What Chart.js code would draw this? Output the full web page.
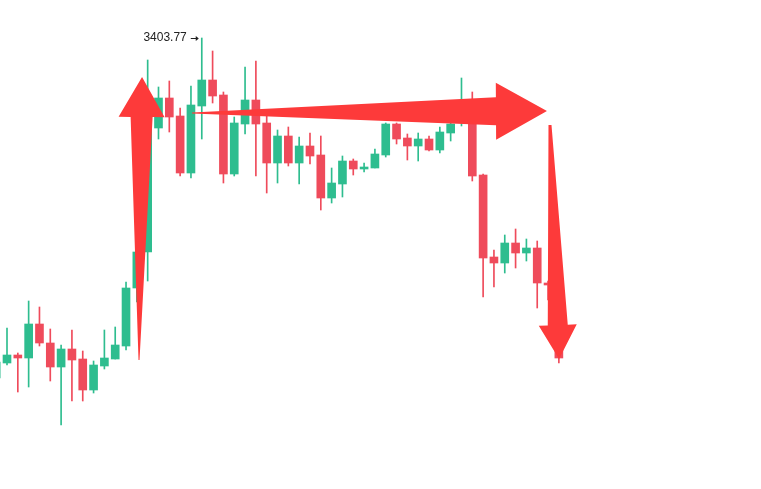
<!DOCTYPE html>
<html>
<head>
<meta charset="utf-8">
<style>
  html, body { margin: 0; padding: 0; background: #fff; }
  #wrap { width: 761px; height: 489px; }
</style>
<script src="https://cdn.jsdelivr.net/npm/chart.js@4/dist/chart.umd.min.js"></script>
</head>
<body>
<div id="wrap"><canvas id="kline"></canvas></div>
<script>
// candles, first one is cut off by the left edge
var opens = [3233.77, 3241.27, 3245.27, 3243.77, 3260.77, 3251.27, 3239.27, 3248.27, 3243.27, 3227.77,
  3239.77, 3243.27, 3249.77, 3278.77, 3296.77, 3358.77, 3373.77, 3364.77, 3336.27, 3369.77,
  3382.77, 3375.27, 3335.77, 3360.77, 3372.77, 3361.27, 3341.27, 3354.77, 3341.27, 3349.77,
  3345.27, 3323.77, 3330.77, 3342.27, 3338.27, 3338.77, 3345.27, 3360.77, 3353.77, 3349.77,
  3353.27, 3347.77, 3356.27, 3361.77, 3362.77, 3335.27, 3294.27, 3291.27, 3301.27, 3296.27,
  3298.77, 3281.27, 3280.27];
var highs = [3245.27, 3258.77, 3246.27, 3272.27, 3269.27, 3258.27, 3250.27, 3257.77, 3247.27, 3242.27,
  3257.77, 3259.27, 3281.77, 3300.27, 3392.77, 3379.27, 3382.27, 3368.77, 3379.77, 3403.77,
  3397.27, 3376.77, 3364.27, 3389.27, 3392.27, 3365.27, 3357.77, 3359.27, 3354.27, 3356.27,
  3354.77, 3338.77, 3344.77, 3343.27, 3341.27, 3348.27, 3361.27, 3361.27, 3355.77, 3356.27,
  3354.77, 3359.27, 3367.77, 3383.77, 3376.77, 3335.77, 3297.77, 3305.27, 3308.27, 3303.27,
  3302.27, 3282.27, 3281.27];
var lows = [3230.27, 3240.27, 3226.77, 3229.27, 3249.77, 3232.27, 3210.27, 3222.27, 3222.27, 3226.27,
  3238.27, 3243.27, 3247.77, 3271.77, 3282.27, 3353.27, 3356.77, 3334.77, 3333.77, 3353.27,
  3371.27, 3331.27, 3334.77, 3355.77, 3334.77, 3326.27, 3331.27, 3339.77, 3330.77, 3340.77,
  3317.77, 3321.27, 3324.27, 3335.27, 3336.77, 3338.77, 3344.27, 3350.77, 3342.77, 3342.27,
  3347.27, 3346.27, 3352.27, 3359.77, 3332.27, 3274.27, 3279.27, 3286.27, 3288.77, 3292.27,
  3268.77, 3272.77, 3241.27];
var closes = [3241.77, 3245.27, 3243.77, 3260.77, 3251.27, 3239.27, 3248.27, 3242.77, 3227.77, 3240.27,
  3243.77, 3250.27, 3278.77, 3296.77, 3367.77, 3373.77, 3364.27, 3336.27, 3370.27, 3382.77,
  3374.77, 3335.77, 3361.27, 3372.77, 3360.77, 3341.27, 3354.77, 3341.27, 3349.77, 3344.77,
  3323.77, 3331.27, 3342.27, 3338.27, 3339.27, 3345.77, 3360.77, 3353.27, 3349.77, 3353.27,
  3347.77, 3356.77, 3360.77, 3370.27, 3334.77, 3293.77, 3291.27, 3301.27, 3296.27, 3298.77,
  3281.27, 3280.27, 3243.77];

// drawn arrows: [candle index, price] for tail and tip
var arrowTails = [[12.2, 3242.77], [17.1, 3366.27], [50.18, 3360.27]];
var arrowTips = [[12.48, 3384.27], [49.9, 3367.27], [51.02, 3243.27]];

var upColor = '#2ebd8f';
var downColor = '#ef4b5b';

var bodies = [], wicks = [], colors = [];
for (var i = 0; i < opens.length; i++) {
  var x = i - 1;
  bodies.push({x: x, y: [opens[i], closes[i]]});
  wicks.push({x: x, y: [lows[i], highs[i]]});
  colors.push(closes[i] >= opens[i] ? upColor : downColor);
}

// arrow sizes in px: tail width, shaft width at head, head width, head length
var arrowSizes = [[1, 22, 46, 40], [1, 28, 57, 51], [3, 20, 38, 34]];

var arrowPlugin = {
  id: 'arrows',
  afterDatasetsDraw: function (chart) {
    var c = chart.ctx, xs = chart.scales.x, ys = chart.scales.y;
    c.save();
    c.fillStyle = '#fd3a3a';
    for (var a = 0; a < arrowTails.length; a++) {
      var tx = xs.getPixelForValue(arrowTails[a][0]), ty = ys.getPixelForValue(arrowTails[a][1]);
      var px = xs.getPixelForValue(arrowTips[a][0]), py = ys.getPixelForValue(arrowTips[a][1]);
      var len = Math.hypot(px - tx, py - ty);
      var ux = (px - tx) / len, uy = (py - ty) / len;
      var nx = -uy, ny = ux;
      var tw = arrowSizes[a][0] / 2, sw = arrowSizes[a][1] / 2, hw = arrowSizes[a][2] / 2, hl = arrowSizes[a][3];
      var bx = px - ux * hl, by = py - uy * hl;
      c.beginPath();
      c.moveTo(tx + nx * tw, ty + ny * tw);
      c.lineTo(bx + nx * sw, by + ny * sw);
      c.lineTo(bx + nx * hw, by + ny * hw);
      c.lineTo(px, py);
      c.lineTo(bx - nx * hw, by - ny * hw);
      c.lineTo(bx - nx * sw, by - ny * sw);
      c.lineTo(tx - nx * tw, ty - ny * tw);
      c.closePath();
      c.fill();
    }
    c.restore();

    // label on the highest high
    var hi = 0;
    for (var j = 1; j < highs.length; j++) if (highs[j] > highs[hi]) hi = j;
    var hx = xs.getPixelForValue(hi - 1), hy = ys.getPixelForValue(highs[hi]);
    c.save();
    c.fillStyle = '#222';
    c.strokeStyle = '#222';
    c.font = '12px "Liberation Sans", Arial, sans-serif';
    c.textAlign = 'right';
    c.textBaseline = 'middle';
    c.fillText(highs[hi].toFixed(2), hx - 15, hy);
    c.lineWidth = 1;
    c.beginPath();
    c.moveTo(hx - 11, hy + 0.5);
    c.lineTo(hx - 4, hy + 0.5);
    c.stroke();
    c.beginPath();
    c.moveTo(hx - 3, hy + 0.5);
    c.lineTo(hx - 6, hy - 2);
    c.lineTo(hx - 6, hy + 3);
    c.closePath();
    c.fill();
    c.restore();
  }
};

var chart = new Chart(document.getElementById('kline'), {
  type: 'bar',
  data: {
    datasets: [{
      data: bodies,
      backgroundColor: colors,
      barThickness: 8,
      grouped: false,
      borderWidth: 0
    }, {
      data: wicks,
      backgroundColor: colors,
      barThickness: 1,
      grouped: false,
      borderWidth: 0
    }]
  },
  options: {
    responsive: true,
    maintainAspectRatio: false,
    animation: false,
    layout: { padding: 0 },
    plugins: { legend: { display: false }, tooltip: { enabled: false } },
    scales: {
      x: { type: 'linear', min: -0.647, max: 69.68, offset: false, display: false },
      y: { min: 3178.27, max: 3422.77, display: false }
    }
  },
  plugins: [arrowPlugin]
});
</script>
</body>
</html>
